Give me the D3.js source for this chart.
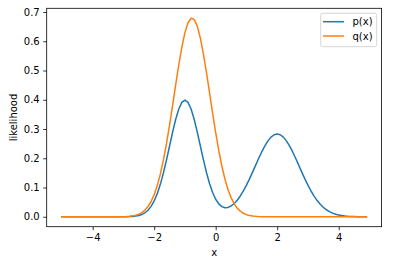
<!DOCTYPE html>
<html>
<head>
<meta charset="utf-8">
<script src="https://cdn.jsdelivr.net/npm/d3@7"></script>
<style>
  html, body { margin: 0; padding: 0; background: #fff; }
  svg { display: block; }
  text { font-family: "DejaVu Sans", sans-serif; fill: #000; }
</style>
</head>
<body>
<svg id="chart" width="400" height="261"></svg>
<script>
// x grid: -5.0 .. 4.9 step 0.1 (100 points)
const xs = d3.range(100).map(i => +(-5 + i * 0.1).toFixed(1));

const pValues = [
  0,0,0,0,0,0,0,0,0,0,            // -5.0 .. -4.1
  0,0,0,0,0,0,0,0,0,0,            // -4.0 .. -3.1
  0.0001,0.0003,0.0006,0.0012,0.0024,0.0044,0.0079,0.0136,0.0224,0.0355, // -3.0 .. -2.1
  0.0540,0.0790,0.1109,0.1497,0.1942,0.2420,0.2897,0.3332,0.3682,0.3910, // -2.0 .. -1.1
  0.3989,0.3911,0.3683,0.3334,0.2901,0.2427,0.1953,0.1514,0.1136,0.0830, // -1.0 .. -0.1
  0.0600,0.0442,0.0348,0.0310,0.0319,0.0367,0.0451,0.0566,0.0712,0.0884, // 0.0 .. 0.9
  0.1080,0.1296,0.1527,0.1764,0.2000,0.2224,0.2425,0.2595,0.2723,0.2803, // 1.0 .. 1.9
  0.2830,0.2803,0.2723,0.2595,0.2425,0.2224,0.2000,0.1764,0.1527,0.1296, // 2.0 .. 2.9
  0.1079,0.0881,0.0706,0.0554,0.0427,0.0323,0.0240,0.0174,0.0124,0.0087, // 3.0 .. 3.9
  0.0060,0.0040,0.0027,0.0017,0.0011,0.0007,0.0004,0.0002,0.0001,0.0001  // 4.0 .. 4.9
];

const qValues = [
  0,0,0,0,0,0,0,0,0,0,            // -5.0 .. -4.1
  0,0,0,0,0,0,0.0000,0.0001,0.0001,0.0003, // -4.0 .. -3.1
  0.0005,0.0009,0.0017,0.0031,0.0053,0.0088,0.0144,0.0228,0.0350,0.0522, // -3.0 .. -2.1
  0.0756,0.1066,0.1457,0.1937,0.2501,0.3136,0.3820,0.4521,0.5197,0.5802, // -2.0 .. -1.1
  0.6294,0.6631,0.6787,0.6748,0.6517,0.6114,0.5571,0.4933,0.4241,0.3543, // -1.0 .. -0.1
  0.2875,0.2266,0.1735,0.1291,0.0932,0.0654,0.0446,0.0295,0.0190,0.0119, // 0.0 .. 0.9
  0.0072,0.0042,0.0024,0.0014,0.0007,0.0004,0.0002,0.0001,0,0,           // 1.0 .. 1.9
  0,0,0,0,0,0,0,0,0,0,            // 2.0 .. 2.9
  0,0,0,0,0,0,0,0,0,0,            // 3.0 .. 3.9
  0,0,0,0,0,0,0,0,0,0             // 4.0 .. 4.9
];

const seriesNames = ["p(x)", "q(x)"];
const seriesColors = ["#1f77b4", "#ff7f0e"];
const xTicks = [-4, -2, 0, 2, 4];
const yTicks = [0.0, 0.1, 0.2, 0.3, 0.4, 0.5, 0.6, 0.7];
const xLabel = "x";
const yLabel = "likelihood";

const svg = d3.select("#chart");
const L = 46.7, R = 381.6, T = 8.3, B = 226.7;

// matplotlib-style 5% margins
const xMin = d3.min(xs), xMax = d3.max(xs);
const xPad = (xMax - xMin) * 0.05;
const yMinD = Math.min(d3.min(pValues), d3.min(qValues));
const yMaxD = Math.max(d3.max(pValues), d3.max(qValues));
const yPad = (yMaxD - yMinD) * 0.05;

const x = d3.scaleLinear().domain([xMin - xPad, xMax + xPad]).range([L, R]);
const y = d3.scaleLinear().domain([yMinD - yPad, yMaxD + yPad]).range([B, T]);

const fmtMinus = d => d3.format("d")(d).replace("-", "\u2212");

// x axis
const xAxis = svg.append("g").attr("transform", `translate(0,${B})`)
  .call(d3.axisBottom(x).tickValues(xTicks).tickFormat(fmtMinus).tickSize(3.5).tickPadding(3.5));
// y axis
const yAxis = svg.append("g").attr("transform", `translate(${L},0)`)
  .call(d3.axisLeft(y).tickValues(yTicks).tickFormat(d3.format(".1f")).tickSize(3.5).tickPadding(3.5));

[xAxis, yAxis].forEach(g => {
  g.select(".domain").remove();
  g.selectAll(".tick line").attr("stroke", "#000").attr("stroke-width", 0.8);
  g.selectAll(".tick text").attr("font-size", 10).attr("font-family", "DejaVu Sans, sans-serif").attr("fill", "#000");
});

// lines
const series = [pValues, qValues];
const line = d3.line().x((d, i) => x(xs[i])).y(d => y(d));
series.forEach((vals, k) => {
  svg.append("path")
    .datum(vals)
    .attr("d", line)
    .attr("fill", "none")
    .attr("stroke", seriesColors[k])
    .attr("stroke-width", 1.5)
    .attr("stroke-linejoin", "round")
    .attr("stroke-linecap", "square");
});

// spines
svg.append("rect")
  .attr("x", L).attr("y", T).attr("width", R - L).attr("height", B - T)
  .attr("fill", "none").attr("stroke", "#000").attr("stroke-width", 0.8);

// axis labels
svg.append("text")
  .attr("x", (L + R) / 2).attr("y", 256)
  .attr("text-anchor", "middle").attr("font-size", 10)
  .text(xLabel);
svg.append("text")
  .attr("transform", `translate(17,${(T + B) / 2}) rotate(-90)`)
  .attr("text-anchor", "middle").attr("font-size", 10)
  .text(yLabel);

// legend
const lg = svg.append("g");
lg.append("rect")
  .attr("x", 320.7).attr("y", 13.3).attr("width", 56).attr("height", 33.4)
  .attr("rx", 2).attr("ry", 2)
  .attr("fill", "#fff").attr("fill-opacity", 0.8)
  .attr("stroke", "#ccc").attr("stroke-width", 0.8);
seriesNames.forEach((name, k) => {
  const ly = 21.7 + k * 14.3;
  lg.append("line")
    .attr("x1", 323).attr("x2", 344).attr("y1", ly).attr("y2", ly)
    .attr("stroke", seriesColors[k]).attr("stroke-width", 1.5);
  lg.append("text")
    .attr("x", 352.5).attr("y", ly + 3.6)
    .attr("font-size", 10)
    .text(name);
});
</script>
</body>
</html>
